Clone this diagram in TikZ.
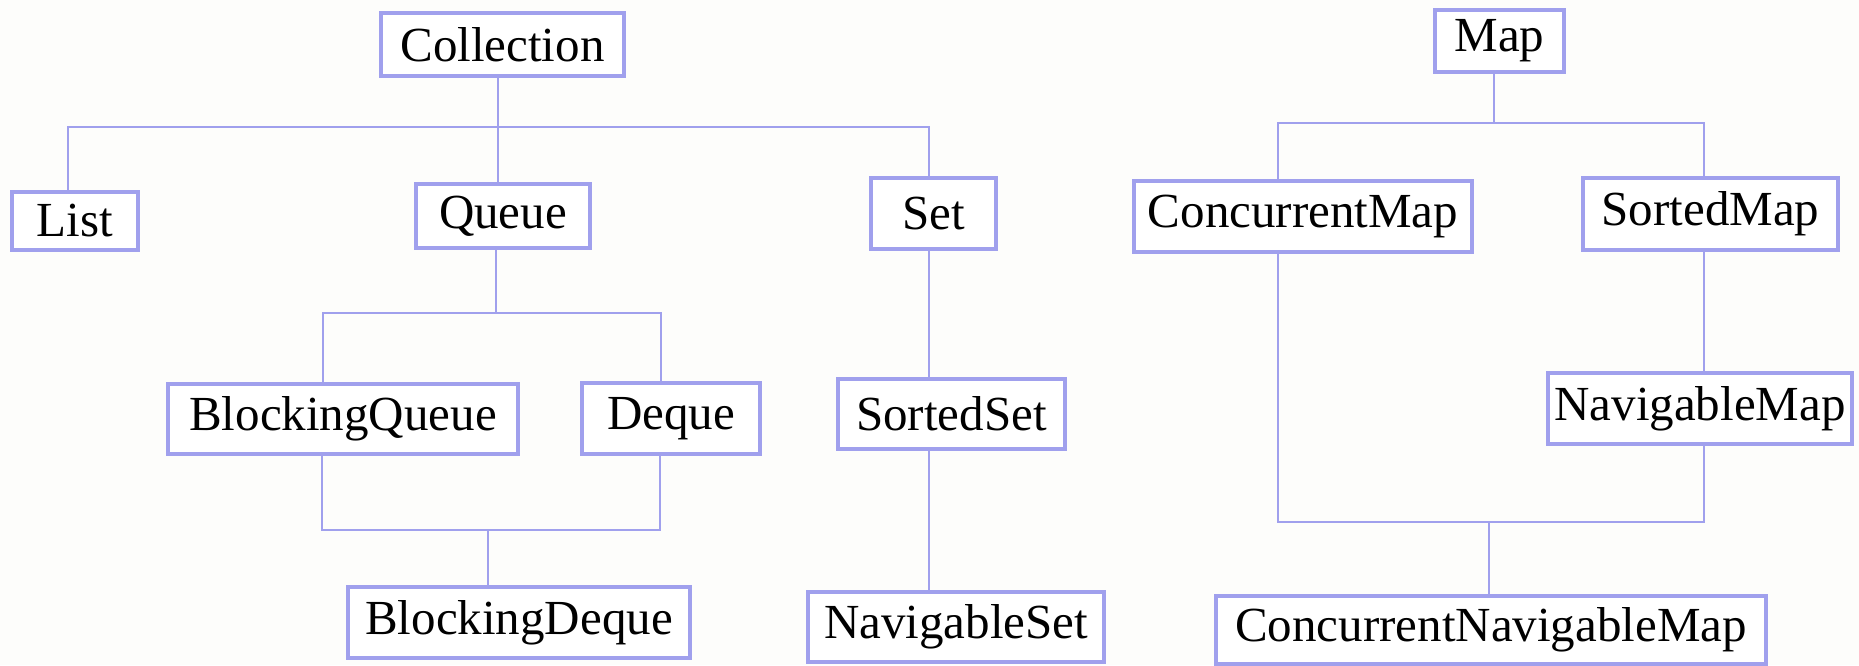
\documentclass[tikz,border=0pt]{standalone}
\usepackage{fontspec}
\setmainfont{Liberation Serif}
\definecolor{edge}{RGB}{160,160,237}
\definecolor{paper}{RGB}{253,253,251}
\begin{document}
\begin{tikzpicture}[x=0.5pt,y=-0.5pt,
  box/.style={draw=edge,line width=1.6pt,inner sep=0pt,fill=white,
    font=\fontsize{24.5}{28}\selectfont},
  link/.style={draw=edge,line width=1.35pt}]
\fill[paper] (0,0) rectangle (1859,665);
\useasboundingbox (0,0) rectangle (1859,665);

% Collection hierarchy
\node[box,minimum width=121.5pt,minimum height=31.5pt] (coll) at (502.5,44.5) {Collection};
\node[box,minimum width=63pt,minimum height=29pt] (list) at (75,221) {List};
\node[box,minimum width=87pt,minimum height=32pt] (queue) at (503,216) {Queue};
\node[box,minimum width=62.5pt,minimum height=35.5pt] (set) at (933.5,213.5) {Set};
\node[box,minimum width=175pt,minimum height=35pt] (bq) at (343,419) {BlockingQueue};
\node[box,minimum width=89pt,minimum height=35.5pt] (deque) at (671,418.5) {Deque};
\node[box,minimum width=113.5pt,minimum height=35pt] (sset) at (951.5,414) {SortedSet};
\node[box,minimum width=171pt,minimum height=35.5pt] (bd) at (519,622.5) {BlockingDeque};
\node[box,minimum width=148pt,minimum height=35pt] (nset) at (956,627) {NavigableSet};

% Map hierarchy
\node[box,minimum width=64.5pt,minimum height=31pt] (map) at (1499.5,41) {Map};
\node[box,minimum width=169pt,minimum height=35.5pt] (cmap) at (1303,216.5) {ConcurrentMap};
\node[box,minimum width=127.5pt,minimum height=36pt] (smap) at (1710.5,214) {SortedMap};
\node[box,minimum width=152pt,minimum height=35.5pt] (nmap) at (1700,408.5) {NavigableMap};
\node[box,minimum width=275pt,minimum height=34pt] (cnm) at (1491,630) {ConcurrentNavigableMap};

% junction points of the connector bars
\coordinate (j1) at (498,127);
\coordinate (j1l) at (68,127);
\coordinate (j1r) at (929,127);
\coordinate (j2) at (496,313);
\coordinate (j2l) at (323,313);
\coordinate (j2r) at (661,313);
\coordinate (j3) at (488,530);
\coordinate (j3l) at (322,530);
\coordinate (j3r) at (660,530);
\coordinate (j4) at (1494,123);
\coordinate (j4l) at (1278,123);
\coordinate (j4r) at (1704,123);
\coordinate (j5) at (1489,522);
\coordinate (j5l) at (1278,522);
\coordinate (j5r) at (1704,522);

% Collection -> List, Queue, Set
\draw[link] (coll.south -| j1) -- (j1);
\draw[link] (list.north -| j1l) -- (j1l) -- (j1r) -- (set.north -| j1r);
\draw[link] (j1) -- (queue.north -| j1);
% Queue -> BlockingQueue, Deque
\draw[link] (queue.south -| j2) -- (j2);
\draw[link] (bq.north -| j2l) -- (j2l) -- (j2r) -- (deque.north -| j2r);
% BlockingQueue, Deque -> BlockingDeque
\draw[link] (bq.south -| j3l) -- (j3l) -- (j3r) -- (deque.south -| j3r);
\draw[link] (j3) -- (bd.north -| j3);
% Set -> SortedSet -> NavigableSet
\draw[link] (set.south -| j1r) -- (sset.north -| j1r);
\draw[link] (sset.south -| j1r) -- (nset.north -| j1r);

% Map -> ConcurrentMap, SortedMap
\draw[link] (map.south -| j4) -- (j4);
\draw[link] (cmap.north -| j4l) -- (j4l) -- (j4r) -- (smap.north -| j4r);
% SortedMap -> NavigableMap
\draw[link] (smap.south -| j5r) -- (nmap.north -| j5r);
% ConcurrentMap, NavigableMap -> ConcurrentNavigableMap
\draw[link] (cmap.south -| j5l) -- (j5l) -- (j5r) -- (nmap.south -| j5r);
\draw[link] (j5) -- (cnm.north -| j5);
\end{tikzpicture}
\end{document}
